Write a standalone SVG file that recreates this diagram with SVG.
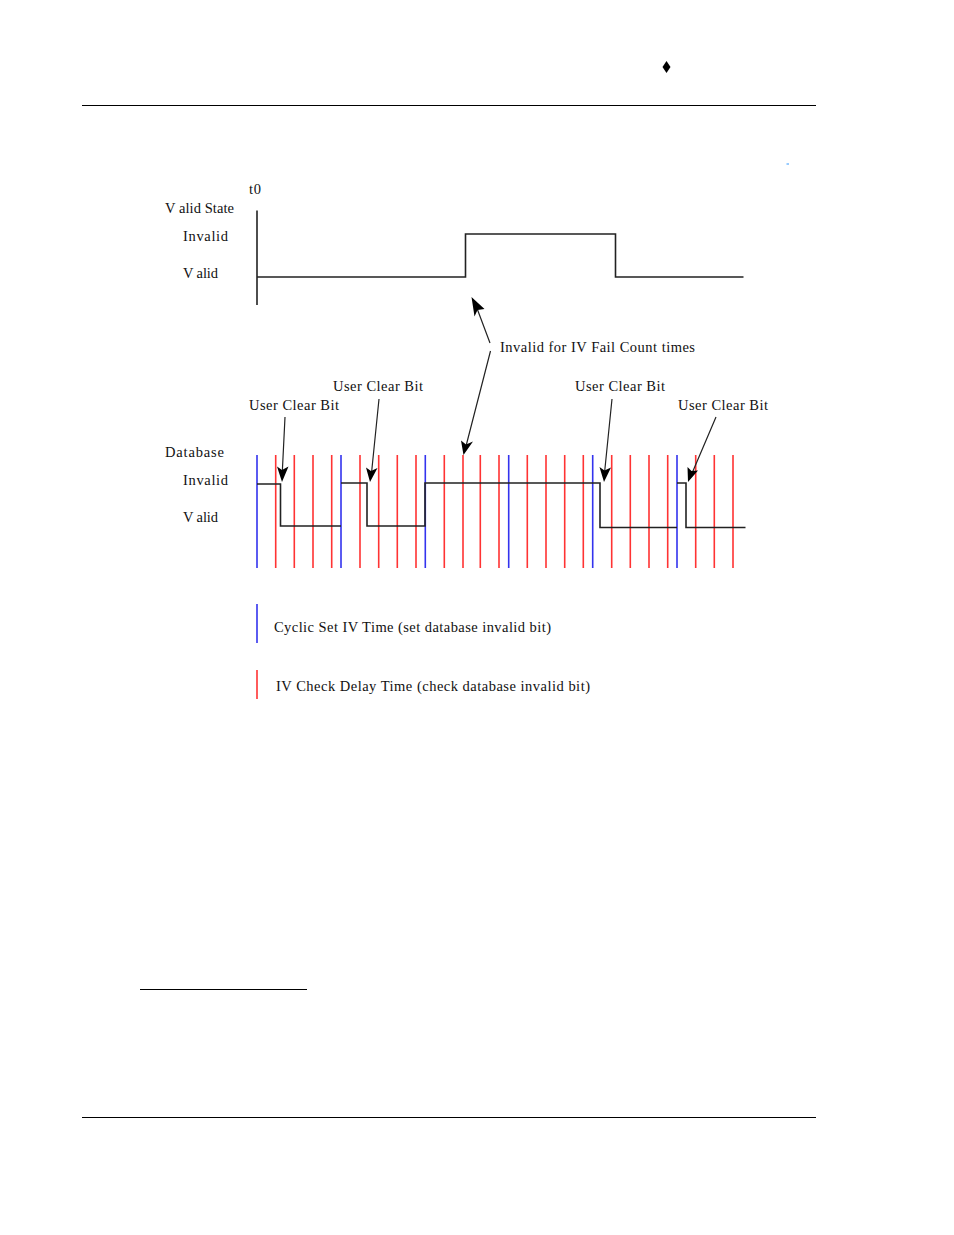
<svg xmlns="http://www.w3.org/2000/svg" width="954" height="1235" viewBox="0 0 954 1235">
<style>
text{font-family:"Liberation Serif","Times New Roman",serif;font-size:14.500px;fill:#111}
.r{stroke:#f33;stroke-width:1.600;fill:none}
.b{stroke:#33e;stroke-width:1.600;fill:none}
.s{stroke:#222;stroke-width:1.600;fill:none}
.k{stroke:#000;stroke-width:1;fill:none}
.a{stroke:#222;stroke-width:1.200;fill:none}
.h{fill:#000}
</style>
<rect width="954" height="1235" fill="#fff"/>
<g id="page">
<path class="k" d="M82 105.500H816M82 1117.500H816M140 989.500H307"/>
<path class="h" d="M666.500 61L670.500 67L666.500 73L662.500 67Z"/>
<path d="M786.500 164H789" stroke="#39f" stroke-width="1" fill="none"/>
</g>
<g id="labels">
<text x="249" y="194" textLength="12">t0</text>
<text x="165" y="213" textLength="69">V alid State</text>
<text x="183" y="241" textLength="45">Invalid</text>
<text x="183" y="278" textLength="35">V alid</text>
<text x="500" y="352" textLength="195">Invalid for IV Fail Count times</text>
<text x="333" y="391" textLength="90">User Clear Bit</text>
<text x="249" y="410" textLength="90">User Clear Bit</text>
<text x="575" y="391" textLength="90">User Clear Bit</text>
<text x="678" y="410" textLength="90">User Clear Bit</text>
<text x="165" y="457" textLength="59">Database</text>
<text x="183" y="485" textLength="45">Invalid</text>
<text x="183" y="522" textLength="35">V alid</text>
<text x="274" y="632" textLength="277">Cyclic Set IV Time (set database invalid bit)</text>
<text x="276" y="691" textLength="314">IV Check Delay Time (check database invalid bit)</text>
</g>
<g id="timing-lines">
<path class="r" d="M275.700 455V568M294.300 455V568M313 455V568M331.700 455V568M360 455V568M378.700 455V568M397.300 455V568M416 455V568M444.300 455V568M463 455V568M480.300 455V568M499 455V568M527.300 455V568M546 455V568M564.700 455V568M583.300 455V568M611.700 455V568M630.300 455V568M649 455V568M667.700 455V568M695.700 455V568M714.300 455V568M733 455V568"/>
<path class="b" d="M257 455V568M341 455V568M425.300 455V568M508.700 455V568M592.700 455V568M677 455V568"/>
</g>
<g id="legend">
<path class="b" d="M257 604V643"/>
<path class="r" d="M257 670V699"/>
</g>
<g id="signals">
<path class="s" d="M257 210.500V305M257 277H465.500V234H615.500V277H743.500"/>
<path class="s" d="M257 484H280.500V526H341M341 483H367V526H425V483H600V527.500H677M677 483H686V527.500H745.500"/>
</g>
<g id="connectors">
<path class="a" d="M490 343L475 303M490.500 351L465 450M285 417L282 478M379 399L371 478M612 399L604 478M716 417L690 478"/>
<path class="h" d="M471.500 297L484.500 309L477.500 310L474.500 316.500Z"/>
<path class="h" d="M463.500 455L461 440.500L466 444.500L473 441.500Z"/>
<path class="h" d="M282 482L277 466.500L282 470L288.500 466.500Z"/>
<path class="h" d="M370 482L366 467.500L371 471L377.500 468Z"/>
<path class="h" d="M604 482L599.500 467L604.500 470.500L611 467.500Z"/>
<path class="h" d="M688 482L687.500 467L691.500 471L698 470.500Z"/>
</g>
</svg>
